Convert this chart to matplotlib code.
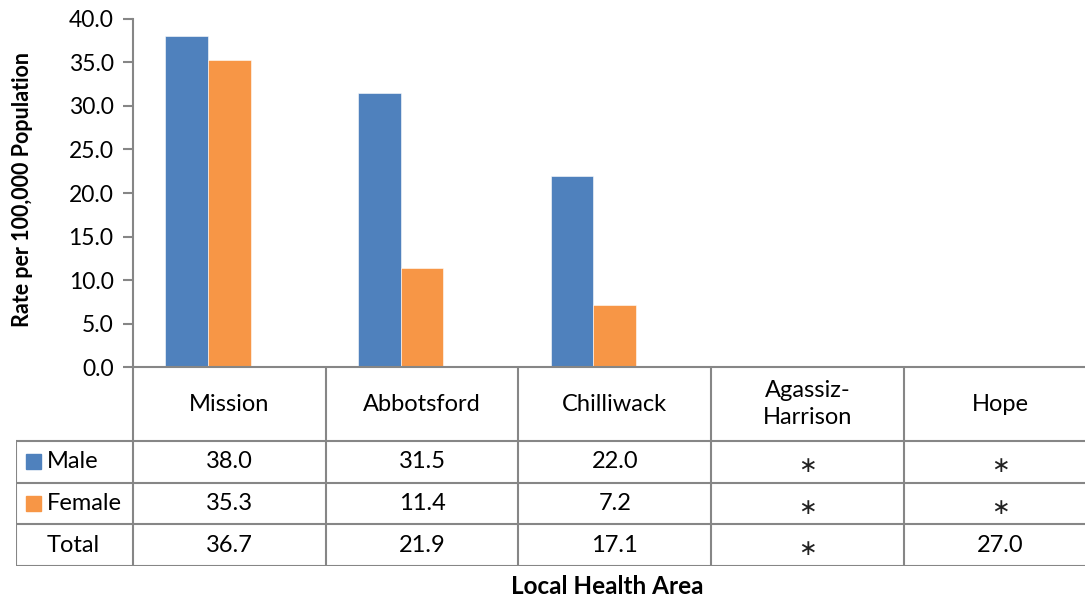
import matplotlib.pyplot as plt
import numpy as np

plt.rcParams['font.family'] = ['Lato', 'DejaVu Sans']

areas = ["Mission", "Abbotsford", "Chilliwack", "Agassiz-\nHarrison", "Hope"]
series_names = ["Male", "Female", "Total"]
male = [38.0, 31.5, 22.0, np.nan, np.nan]
female = [35.3, 11.4, 7.2, np.nan, np.nan]
total = [36.7, 21.9, 17.1, np.nan, 27.0]
yticks = [0, 5, 10, 15, 20, 25, 30, 35, 40]

blue = '#4F81BD'
orange = '#F79646'
grey = '#868686'
fs = 17

W, H = 1085, 601
fig = plt.figure(figsize=(W / 100, H / 100), dpi=100)

# pixel layout of the plot area (Excel style, right column is cut by the figure edge)
cat_px = 192.7
x0_px = 133
top_px, base_px = 18.7, 367.3
ax = fig.add_axes([x0_px / W, 1 - base_px / H, 5 * cat_px / W, (base_px - top_px) / H])

n = len(areas)
x = np.arange(n)
bw = 1 / 4.5  # three series slots, gap width 150%
for j, (vals, col) in enumerate([(male, blue), (female, orange)]):
    ax.bar(x - 0.5 + 0.75 * bw + j * bw, vals, width=bw, align='edge', color=col,
           edgecolor='white', linewidth=0.4)

ax.set_xlim(-0.5, n - 0.5)
ax.set_ylim(0, 40)
ax.set_yticks(yticks)
ax.set_yticklabels([f"{v:.1f}" for v in yticks], fontsize=16.5)
ax.set_xticks([])
for s in ['top', 'right']:
    ax.spines[s].set_visible(False)
for s in ['left', 'bottom']:
    ax.spines[s].set_color(grey)
    ax.spines[s].set_linewidth(1.5)
ax.tick_params(axis='y', length=7, width=1.5, color=grey, pad=7)

fig.text(23 / W, 1 - 190 / H, "Rate per 100,000 Population", rotation=90,
         ha='center', va='center', fontsize=15.5, fontweight='bold')

# data table below the plot
left_px = 16
row_edges = [0, 73.5, 115.5, 157, 198.5]
tab = fig.add_axes([left_px / W, 1 - (base_px + row_edges[-1]) / H,
                    (x0_px + 5 * cat_px - left_px) / W, row_edges[-1] / H])
xl = -0.5 - (x0_px - left_px) / cat_px
tab.set_xlim(xl, n - 0.5)
tab.set_ylim(row_edges[-1], 0)
tab.axis('off')

lk = dict(color=grey, linewidth=1.5, solid_capstyle='butt')
for y in row_edges[1:]:
    tab.plot([xl, n - 0.5], [y, y], **lk)
tab.plot([xl, xl], [row_edges[1], row_edges[-1]], **lk)
for b in np.arange(n) - 0.5:
    tab.plot([b, b], [0, row_edges[-1]], **lk)

for i, name in enumerate(areas):
    tab.text(i, (row_edges[0] + row_edges[1]) / 2, name, ha='center', va='center',
             fontsize=fs, linespacing=1.3)

rows = [male, female, total]
colors = [blue, orange, None]
sw = 15 / cat_px
for r, (vals, col, nm) in enumerate(zip(rows, colors, series_names)):
    yc = (row_edges[r + 1] + row_edges[r + 2]) / 2
    if col:
        tab.add_patch(plt.Rectangle((xl + 10 / cat_px, yc - 7.5), sw, 15, color=col))
    tab.text(xl + 31 / cat_px, yc, nm, ha='left', va='center', fontsize=fs)
    for i, v in enumerate(vals):
        if np.isnan(v):
            tab.text(i, yc + 4, "\u2217", ha='center', va='center', fontsize=16,
                     family=['DejaVu Sans'], color='#222222')
        else:
            tab.text(i, yc, f"{v:.1f}", ha='center', va='center', fontsize=fs)

fig.text(607 / W, 1 - 587 / H, "Local Health Area", ha='center', va='center',
         fontsize=17.5, fontweight='bold')

fig.savefig("out.png", dpi=100)
